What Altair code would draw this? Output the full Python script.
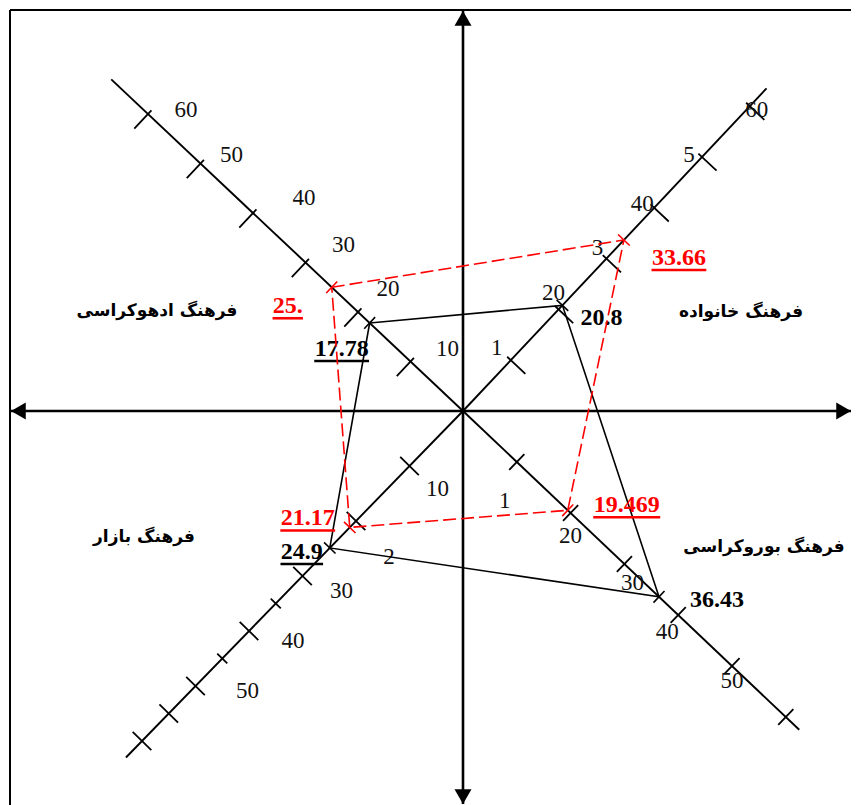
import math
import altair as alt
import pandas as pd

# ---------------- data ----------------
axis_keys = ["NE", "NW", "SW", "SE"]
categories = ["فرهنگ خانواده", "فرهنگ ادهوکراسی", "فرهنگ بازار", "فرهنگ بوروکراسی"]

black_values = [20.8, 17.78, 24.9, 36.43]
black_labels = ["20.8", "17.78", "24.9", "36.43"]
black_underlined = [False, True, True, False]

red_values = [33.66, 25.0, 21.17, 19.469]
red_labels = ["33.66", "25.", "21.17", "19.469"]
red_underlined = [True, True, True, True]

ne_ticks = [10, 20, 30, 40, 50, 60]
ne_tick_labels = ["1", "20", "3", "40", "5", "60"]
nw_ticks = [10, 20, 30, 40, 50, 60]
nw_tick_labels = ["10", "20", "30", "40", "50", "60"]
se_ticks = [10, 20, 30, 40, 50, 60]
se_tick_labels = ["1", "20", "30", "40", "50", ""]
sw_ticks = [10, 20, 30, 35, 40, 45, 50, 55, 60]
sw_tick_labels = ["10", "2", "30", "", "40", "", "50", "", ""]
sw_minor = [35, 45]

axis_extent = {"NE": 63.5, "NW": 67, "SW": 63, "SE": 62.5}

# ---------------- layout (geometry, px per unit) ----------------
DIR = {"NE": (4.78, 5.08), "NW": (-5.25, 4.95), "SW": (-5.35, -5.5), "SE": (5.38, -5.1)}
TICK_SPAN = {"NE": (-5, 20), "NW": (-20, 5), "SE": (-11, 11), "SW": (-13, 13)}
# tick-label offsets (screen px: right, down) relative to tick position
NE_OFF = [(-14, -12), (-5, -16), (-9, -11), (-12, -4), (-13, -2), (7, 4)]
NW_OFF = [(37, -13), (30, -23), (38, -18), (51, -15), (31, -9), (38, -4)]
SE_OFF = [(-12, 39), (0, 23), (8, 19), (-11, 17), (0, 15), (0, 0)]
SW_OFF = [(28, 23), (33, 36), (39, 15), (0, 0), (44, 10), (0, 0), (52, 5), (0, 0), (0, 0)]
BLACK_OFF = [(39, 13), (-28, 26), (-28, 4), (58, 3)]
RED_OFF = [(55, 18), (-44, 19), (-42, -9), (59, -5)]
CAT_POS = [(278, 99), (-306, 100), (-319, -126), (301, -136)]

XD = [-453, 388]
YD = [-394, 401]
xs = alt.Scale(domain=XD, nice=False, zero=False)
ys = alt.Scale(domain=YD, nice=False, zero=False)


def pos(ax, v):
    dx, dy = DIR[ax]
    return dx * v, dy * v


def perp(ax):
    dx, dy = DIR[ax]
    n = math.hypot(dx, dy)
    return dy / n, -dx / n


def X(f="x"):
    return alt.X(f"{f}:Q", scale=xs, axis=None)


def Y(f="y"):
    return alt.Y(f"{f}:Q", scale=ys, axis=None)


def rules(df, color="black", width=2.0, dash=None):
    kw = dict(color=color, strokeWidth=width)
    if dash:
        kw["strokeDash"] = dash
    return alt.Chart(df).mark_rule(**kw).encode(
        x=X("x"), y=Y("y"), x2=alt.X2("x2:Q"), y2=alt.Y2("y2:Q"))


layers = []

# border (left & top)
border = pd.DataFrame([
    {"x": XD[0], "y": YD[0], "x2": XD[0], "y2": YD[1]},
    {"x": XD[0], "y": YD[1], "x2": XD[1], "y2": YD[1]},
])
layers.append(rules(border, width=2))

# main axes
main = pd.DataFrame([
    {"x": -452, "y": 0, "x2": 388, "y2": 0},
    {"x": 0, "y": -393, "x2": 0, "y2": 400},
])
layers.append(rules(main, width=2.6))
arrows = pd.DataFrame([
    {"x": -444.6, "y": 0, "s": "triangle-left"},
    {"x": 380.6, "y": 0, "s": "triangle-right"},
    {"x": 0, "y": 392.6, "s": "triangle-up"},
    {"x": 0, "y": -385.6, "s": "triangle-down"},
])
layers.append(alt.Chart(arrows).mark_point(filled=True, color="black", size=289, opacity=1).encode(
    x=X(), y=Y(), shape=alt.Shape("s:N", scale=None)))

# diagonal axes
diag = []
for ax in axis_keys:
    ex, ey = pos(ax, axis_extent[ax])
    diag.append({"x": 0, "y": 0, "x2": ex, "y2": ey})
layers.append(rules(pd.DataFrame(diag), width=1.9))

# ticks
tick_rows = []
label_rows = []
for ax, vals, labs, offs in [("NE", ne_ticks, ne_tick_labels, NE_OFF),
                             ("NW", nw_ticks, nw_tick_labels, NW_OFF),
                             ("SE", se_ticks, se_tick_labels, SE_OFF),
                             ("SW", sw_ticks, sw_tick_labels, SW_OFF)]:
    nx, ny = perp(ax)
    a, b = TICK_SPAN[ax]
    for v, lab, off in zip(vals, labs, offs):
        px, py = pos(ax, v)
        aa, bb = (a, b)
        if ax == "SW" and v in sw_minor:
            aa, bb = -7, 7
        tick_rows.append({"x": px + nx * aa, "y": py + ny * aa, "x2": px + nx * bb, "y2": py + ny * bb})
        if lab:
            label_rows.append({"x": px + off[0], "y": py - off[1], "t": lab})
layers.append(rules(pd.DataFrame(tick_rows), width=1.8))
layers.append(alt.Chart(pd.DataFrame(label_rows)).mark_text(
    font="Liberation Serif", fontSize=23, color="#111111", baseline="middle", align="center").encode(
    x=X(), y=Y(), text="t:N"))


# polygons
def polygon(values, color, dash, labels, underl, offs):
    pts = []
    for i, (ax, v) in enumerate(zip(axis_keys, values)):
        px, py = pos(ax, v)
        pts.append({"x": px, "y": py, "o": i})
    order = [1, 0, 3, 2, 1]  # NW -> NE -> SE -> SW -> NW
    path = [dict(pts[k], o=j) for j, k in enumerate(order)]
    kw = dict(color=color, strokeWidth=1.6)
    if dash:
        kw["strokeDash"] = dash
    out = [alt.Chart(pd.DataFrame(path)).mark_line(**kw).encode(
        x=X(), y=Y(), order=alt.Order("o:Q"))]
    # vertex marks
    vm = []
    for ax, p in zip(axis_keys, pts):
        nx, ny = perp(ax)
        vm.append({"x": p["x"] - nx * 8, "y": p["y"] - ny * 8, "x2": p["x"] + nx * 8, "y2": p["y"] + ny * 8})
    out.append(rules(pd.DataFrame(vm), color=color, width=1.6))
    # labels
    tl, ul = [], []
    for p, lab, u, off in zip(pts, labels, underl, offs):
        cx, cy = p["x"] + off[0], p["y"] - off[1]
        tl.append({"x": cx, "y": cy, "t": lab})
        if u:
            w = sum(12.2 if ch.isdigit() else 6.0 for ch in lab)
            ul.append({"x": cx - w / 2, "x2": cx + w / 2, "y": cy - 12, "y2": cy - 12})
    out.append(alt.Chart(pd.DataFrame(tl)).mark_text(
        font="Liberation Serif", fontSize=24, fontWeight="bold", color=color,
        baseline="middle", align="center").encode(x=X(), y=Y(), text="t:N"))
    if ul:
        out.append(rules(pd.DataFrame(ul), color=color, width=2.6))
    return out


layers += polygon(black_values, "black", None, black_labels, black_underlined, BLACK_OFF)
layers += polygon(red_values, "#ff0000", [13, 5], red_labels, red_underlined, RED_OFF)

# category labels
cat_df = pd.DataFrame({"x": [p[0] for p in CAT_POS], "y": [p[1] for p in CAT_POS], "t": categories})
layers.append(alt.Chart(cat_df).mark_text(
    font="DejaVu Sans", fontSize=17, fontWeight="bold", color="black",
    baseline="middle", align="center").encode(x=X(), y=Y(), text="t:N"))

chart = alt.layer(*layers).properties(
    width=841, height=795,
    padding={"left": 2, "top": 2, "right": 0, "bottom": 0},
    autosize=alt.AutoSizeParams(type="none"),
).configure_view(stroke=None).configure(background="white")

chart.save("out.html", embed_options={"renderer": "svg", "actions": False})
